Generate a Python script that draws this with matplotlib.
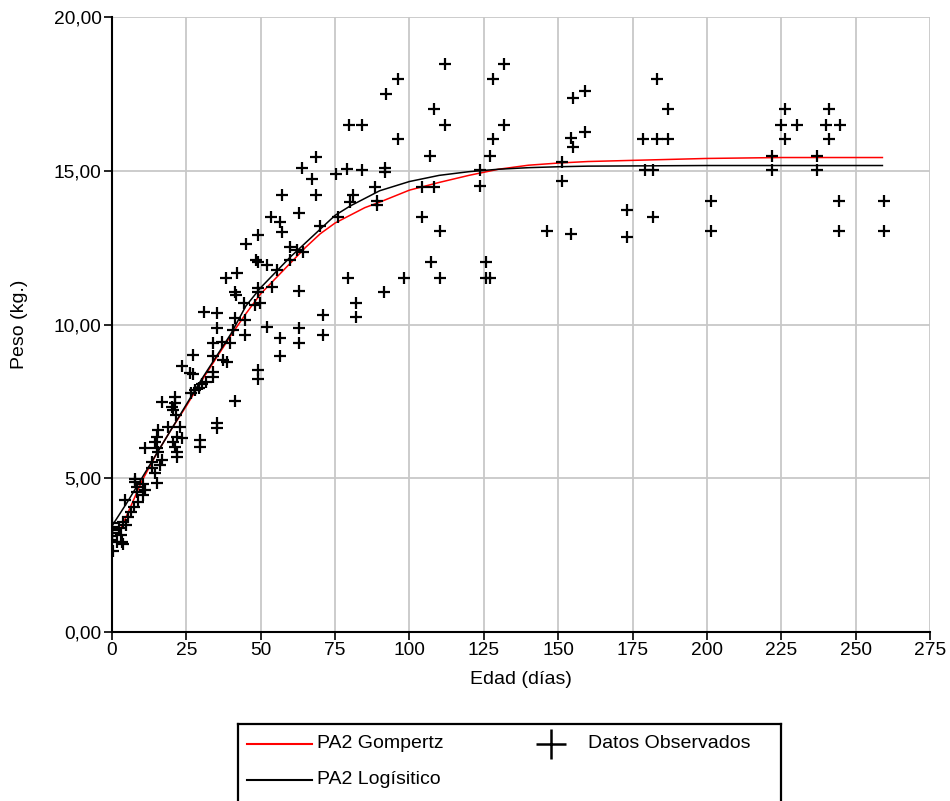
import matplotlib
matplotlib.use("Agg")
import matplotlib.pyplot as plt
from matplotlib.ticker import FuncFormatter, MultipleLocator

plt.rcParams["font.family"] = ["Liberation Sans", "DejaVu Sans"]

# ── datos observados (edad en días, peso en kg) ──────────────────────────────
edad_obs = [
    0.0, 0.0, 0.0, 0.0, 0.0, 0.0, 0.3, 1.6, 2.5, 2.9, 3.2, 3.6, 3.8, 4.7,
    5.5, 6.3, 7.4, 8.6, 4.4, 7.7, 7.9, 8.3, 8.3, 10.3, 11.1, 10.5,
    13.3, 13.3, 14.5, 15.0, 15.6, 16.7, 16.1, 11.1, 15.0, 21.7, 21.7,
    15.6, 15.0, 14.5, 18.9, 22.9, 21.7, 23.4, 20.6, 21.2,
    16.9, 21.2, 21.2, 20.1, 20.6, 21.5, 23.4,
    26.2, 27.3, 27.3, 26.5, 27.9, 29.3, 30.4, 31.5,
    29.6, 29.6, 35.2, 35.2, 41.3, 30.9, 35.2, 34.1, 36.9, 39.7,
    34.1, 37.4, 38.5, 34.1, 34.1, 35.2, 40.8, 44.7, 41.3, 44.7,
    38.3, 41.9, 41.3, 41.7, 44.4, 48.1, 49.7, 49.2, 49.2, 53.7,
    44.9, 49.2, 48.4, 49.2, 49.2, 49.2,
    52.2, 55.4, 52.2, 56.5, 57.0, 57.0, 53.4, 59.8, 62.1, 64.1, 59.8,
    63.0, 63.0, 63.0, 63.0, 56.5, 56.5, 64.0, 67.3, 68.6, 68.6,
    69.9, 71.0, 71.0, 75.2, 76.1,
    79.1, 79.8, 84.1, 84.1, 81.1, 80.0, 79.4, 82.0, 82.0,
    88.4, 89.0, 89.0, 91.8, 91.8, 92.0, 96.2, 96.2, 91.5, 98.2,
    104.1, 108.3, 104.1, 110.3, 107.0, 108.3, 111.9, 111.9, 107.2, 110.3,
    123.8, 123.8, 127.1, 128.2, 131.9, 128.2, 131.9, 125.7, 125.7, 127.1,
    146.2,
    151.2, 151.2, 154.9, 159.0, 154.2, 154.9, 159.0, 154.2,
    173.0, 173.0, 178.6, 183.3, 187.0, 183.3, 187.0, 179.2, 181.9, 181.9,
    201.3, 201.3,
    221.8, 221.8, 224.9, 226.2, 226.2, 230.4,
    237.0, 237.0, 240.1, 241.2, 241.2, 244.9, 244.3, 244.3,
    259.4, 259.4,
]
peso_obs = [
    3.55, 3.43, 3.32, 3.22, 3.11, 3.00, 2.62, 2.94, 3.37, 3.15, 2.94, 2.85, 3.59, 3.48,
    3.75, 3.91, 4.07, 4.24, 4.29, 4.99, 4.89, 4.73, 4.55, 4.80, 4.62, 4.46,
    5.54, 5.32, 5.16, 4.86, 5.86, 5.59, 5.43, 5.97, 5.97, 5.86, 5.70,
    6.57, 6.35, 6.19, 6.68, 6.68, 6.35, 6.30, 6.19, 6.03,
    7.49, 7.65, 7.44, 7.33, 7.22, 7.06, 8.66,
    8.41, 8.39, 9.00, 7.76, 7.87, 7.95, 8.05, 8.14,
    6.24, 6.03, 6.79, 6.62, 7.52, 10.42, 10.36, 9.39, 9.44, 9.39,
    8.98, 8.85, 8.79, 8.47, 8.30, 9.88, 9.82, 9.66, 10.20, 10.15,
    11.50, 11.67, 11.07, 10.96, 10.69, 10.63, 10.69, 11.18, 11.07, 11.23,
    12.62, 12.91, 12.10, 12.04, 8.52, 8.22,
    11.93, 11.77, 9.93, 13.34, 13.02, 14.21, 13.51, 12.53, 12.42, 12.37, 12.10,
    13.64, 11.10, 9.88, 9.39, 9.55, 8.98, 15.08, 14.72, 15.44, 14.21,
    13.20, 10.31, 9.66, 14.89, 13.51,
    15.05, 16.49, 16.49, 15.02, 14.21, 14.00, 11.52, 10.69, 10.25,
    14.48, 14.03, 13.89, 15.08, 14.97, 17.49, 18.00, 16.02, 11.05, 11.52,
    14.48, 14.48, 13.51, 13.04, 15.49, 17.00, 18.47, 16.49, 12.04, 11.52,
    15.02, 14.50, 15.48, 16.02, 16.49, 18.00, 18.47, 12.04, 11.52, 11.52,
    13.04,
    15.27, 14.67, 17.36, 17.59, 16.08, 15.76, 16.25, 12.93,
    13.72, 12.86, 16.02, 16.02, 16.02, 18.00, 17.00, 15.02, 15.02, 13.50,
    14.02, 13.04,
    15.49, 15.02, 16.49, 17.00, 16.02, 16.49,
    15.49, 15.02, 16.49, 17.00, 16.02, 16.49, 14.02, 13.04,
    14.02, 13.04,
]

# ── curvas ajustadas ─────────────────────────────────────────────────────────
edad_gomp = [2, 5, 10, 15, 20, 25, 30, 35, 40, 45, 50, 55, 60, 65, 70, 75, 80,
             85, 90, 100, 110, 120, 130, 140, 150, 160, 180, 200, 225, 259]
peso_gomp = [3.15, 3.8, 4.9, 5.8, 6.6, 7.35, 8.15, 8.9, 9.65, 10.35, 11.0, 11.5,
             12.0, 12.5, 12.95, 13.3, 13.55, 13.8, 13.98, 14.37, 14.62, 14.85,
             15.05, 15.18, 15.25, 15.3, 15.35, 15.4, 15.43, 15.43]

edad_logi = [0, 5, 10, 15, 20, 25, 30, 35, 40, 45, 50, 55, 60, 65, 70, 75, 80,
             85, 90, 100, 110, 120, 130, 140, 150, 160, 180, 200, 225, 259]
peso_logi = [3.45, 4.2, 5.0, 5.8, 6.6, 7.4, 8.2, 8.95, 9.7, 10.6, 11.2, 11.7,
             12.2, 12.65, 13.1, 13.55, 13.85, 14.1, 14.35, 14.65, 14.85, 14.97,
             15.05, 15.1, 15.13, 15.15, 15.16, 15.17, 15.17, 15.17]

FS = 13.8

fig = plt.figure(figsize=(9.5, 8.01), dpi=100)
ax = fig.add_axes([112 / 950, 1 - 632 / 801, 818 / 950, 615 / 801])

ax.plot(edad_gomp, peso_gomp, color="#ff0000", lw=1.1, zorder=3)
ax.plot(edad_logi, peso_logi, color="black", lw=1.1, zorder=3)
ax.plot(edad_obs, peso_obs, ls="none", marker="+", ms=9, mew=1.6,
        color="black", zorder=4)

ax.set_xlim(0, 275)
ax.set_ylim(0, 20)
ax.xaxis.set_major_locator(MultipleLocator(25))
ax.yaxis.set_major_locator(MultipleLocator(5))
ax.yaxis.set_major_formatter(FuncFormatter(lambda v, p: f"{v:.2f}".replace(".", ",")))
ax.grid(True, color="#c8c8c8", lw=1.3)
ax.set_axisbelow(True)

for s in ["top", "right"]:
    ax.spines[s].set_visible(False)
for s in ["left", "bottom"]:
    ax.spines[s].set_linewidth(1.5)
    ax.spines[s].set_color("black")

ax.tick_params(axis="both", direction="out", length=5.5, width=1.2,
               labelsize=FS, pad=2)
ax.set_xlabel("Edad (días)", fontsize=14, labelpad=8)
ax.set_ylabel("Peso (kg.)", fontsize=14)
ax.yaxis.set_label_coords(-0.103, 0.5)

# ── leyenda (caja que sigue bajo el borde inferior) ──────────────────────────
lx0, lx1, ly0, ly1 = 237.8, 781.0, 724.0, 860.0
lax = fig.add_axes([lx0 / 950, 1 - ly1 / 801, (lx1 - lx0) / 950, (ly1 - ly0) / 801])
lax.set_xlim(lx0, lx1)
lax.set_ylim(ly1, ly0)
lax.set_xticks([])
lax.set_yticks([])
for s in lax.spines.values():
    s.set_linewidth(1.6)
    s.set_color("black")

lax.plot([247, 312], [743.5, 743.5], color="#ff0000", lw=1.5)
lax.text(317, 743.5, "PA2 Gompertz", fontsize=14, va="center", ha="left")
lax.plot([247, 312], [780, 780], color="black", lw=1.5)
lax.text(317, 780, "PA2 Logísitico", fontsize=14, va="center", ha="left")
lax.plot([551], [743.5], ls="none", marker="+", ms=22, mew=1.8, color="black")
lax.text(588, 743.5, "Datos Observados", fontsize=14, va="center", ha="left")

fig.savefig("out.png", dpi=100)
